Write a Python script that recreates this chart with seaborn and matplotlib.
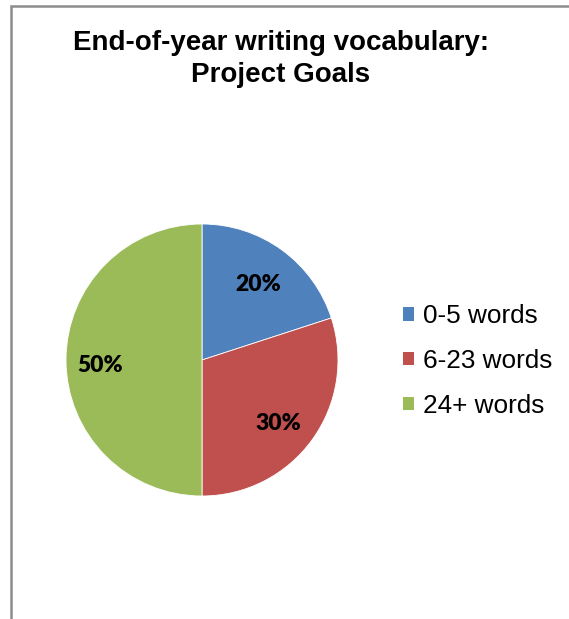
import matplotlib
matplotlib.use("Agg")
import matplotlib.pyplot as plt
import matplotlib.transforms as mtransforms
from matplotlib.patches import Patch, Rectangle
import seaborn as sns

categories = ["0-5 words", "6-23 words", "24+ words"]
shares = [20, 30, 50]
colors = ["#4F81BD", "#C0504D", "#9BBB59"]
title = "End-of-year writing vocabulary:\nProject Goals"

sns.set_theme(style="white")
plt.rcParams["font.family"] = ["Liberation Sans", "DejaVu Sans"]
plt.rcParams["text.color"] = "black"

W, H = 569, 619
fig = plt.figure(figsize=(W / 100, H / 100), dpi=100)
fig.patch.set_facecolor("white")

# outer frame (right and bottom edges cut off)
fig.add_artist(Rectangle((11 / W, -0.1), 1.2, 1.1 - 6 / H, transform=fig.transFigure,
                         fill=False, edgecolor="#8c8c8c", linewidth=1.8))

# pie axes: center (202,360) px, radius 136 px
cx, cy, r = 202, 360, 136
ax = fig.add_axes([(cx - r) / W, (H - cy - r) / H, 2 * r / W, 2 * r / H])
wedges, texts, autotexts = ax.pie(
    shares, colors=colors, startangle=90, counterclock=False, radius=1,
    autopct=lambda p: f"{p:.0f}%", pctdistance=0.72,
    wedgeprops=dict(edgecolor="white", linewidth=0.6),
    textprops=dict(fontsize=16.5, fontweight="heavy", family=["Lato", "DejaVu Sans"], color="black"),
)
offsets = [(-1, -4), (-3, -6), (-4, -6)]
for t, (dx, dy) in zip(autotexts, offsets):
    t.set_transform(mtransforms.offset_copy(t.get_transform(), fig=fig, x=dx, y=dy, units="dots"))
ax.set_xlim(-1, 1)
ax.set_ylim(-1, 1)
ax.set_aspect("auto")
ax.axis("off")

fig.text(281 / W, 1 - 59 / H, title, ha="center", va="center", fontsize=20,
         fontweight="bold", linespacing=1.25, color="black")

handles = [Patch(facecolor=c, edgecolor="none") for c in colors]
fig.legend(handles, categories, loc="center left", bbox_to_anchor=(403 / W, 1 - 361 / H),
           frameon=False, fontsize=18.8, handlelength=0.42, handleheight=0.42,
           handletextpad=0.35, labelspacing=0.8, borderaxespad=0, borderpad=0,
           labelcolor="black")

fig.savefig("out.png", dpi=100)
